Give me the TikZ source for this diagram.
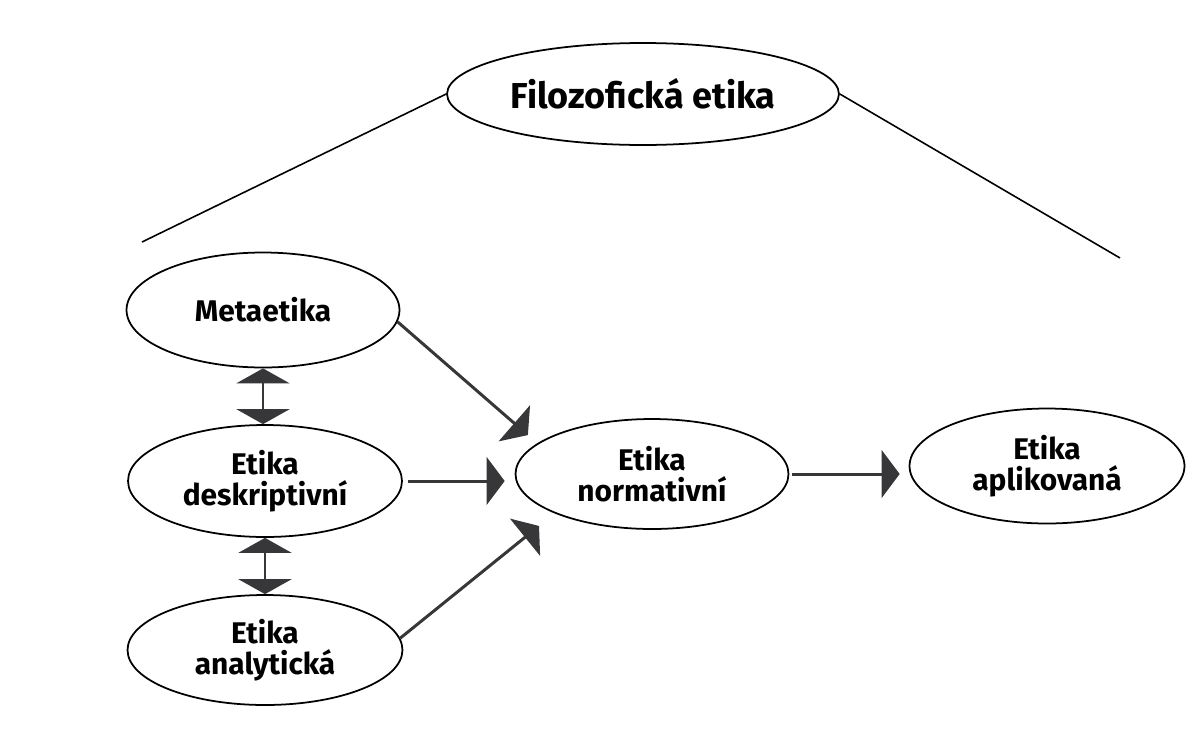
\documentclass[tikz,border=0pt]{standalone}
\usepackage{fontspec}
\setsansfont{Fira Sans}
\usepackage{tikz}
\usetikzlibrary{
    positioning,
    arrows.meta,
    shapes.geometric
}
\definecolor{arrowGray}{RGB}{55, 55, 58}

\begin{document}
\begin{tikzpicture}[x=0.02cm, y=-0.02cm,
        oval/.style={ellipse, draw, line width=1pt, inner sep=0pt, align=center,
            font=\sffamily\bfseries\fontsize{17}{17.5}\selectfont},
        arr/.style={draw=arrowGray, line width=1.7pt, -{Triangle[width=0.95cm, length=0.36cm]}},
        dblarr/.style={draw=arrowGray, line width=1.7pt,
            {Triangle[width=1.06cm, length=0.3cm]}-{Triangle[width=1.06cm, length=0.3cm]}}]
        \useasboundingbox (0,0) rectangle (1199,734);

        \node[oval, minimum width=7.84cm, minimum height=2.04cm,
            font=\sffamily\bfseries\fontsize{20.5}{22}\selectfont] (filo) at (643,94) {Filozofická etika};
        \node[oval, minimum width=5.46cm, minimum height=2.3cm] (meta) at (263,310) {Metaetika};
        \node[oval, minimum width=5.48cm, minimum height=2.24cm] (desk) at (265,481) {Etika\\deskriptivní};
        \node[oval, minimum width=5.5cm, minimum height=2.2cm] (anal) at (265,650) {Etika\\analytická};
        \node[oval, minimum width=5.46cm, minimum height=2.2cm] (norm) at (652,474) {Etika\\normativní};
        \node[oval, minimum width=5.5cm, minimum height=2.3cm] (apl) at (1047,466) {Etika\\aplikovaná};

        \coordinate (leftEnd) at (142,242);
        \coordinate (rightEnd) at (1120,258);
        \draw[line width=0.9pt] (filo.west) -- (leftEnd);
        \draw[line width=0.9pt] (filo.east) -- (rightEnd);

        \draw[dblarr] (meta.south) -- (meta.south |- desk.north);
        \draw[dblarr] (desk.south) -- (desk.south |- anal.north);

        \draw[arr, shorten >=0.25cm] (meta.-5) -- (norm.165);
        \draw[arr, shorten <=0.1cm, shorten >=0.2cm] (desk.east) -- (desk.east -| norm.west);
        \draw[arr, shorten >=0.4cm] (anal.5) -- (norm.-158);
        \draw[arr, shorten <=0.05cm, shorten >=0.18cm] (norm.east) -- (norm.east -| apl.west);
    \end{tikzpicture}
\end{document}
